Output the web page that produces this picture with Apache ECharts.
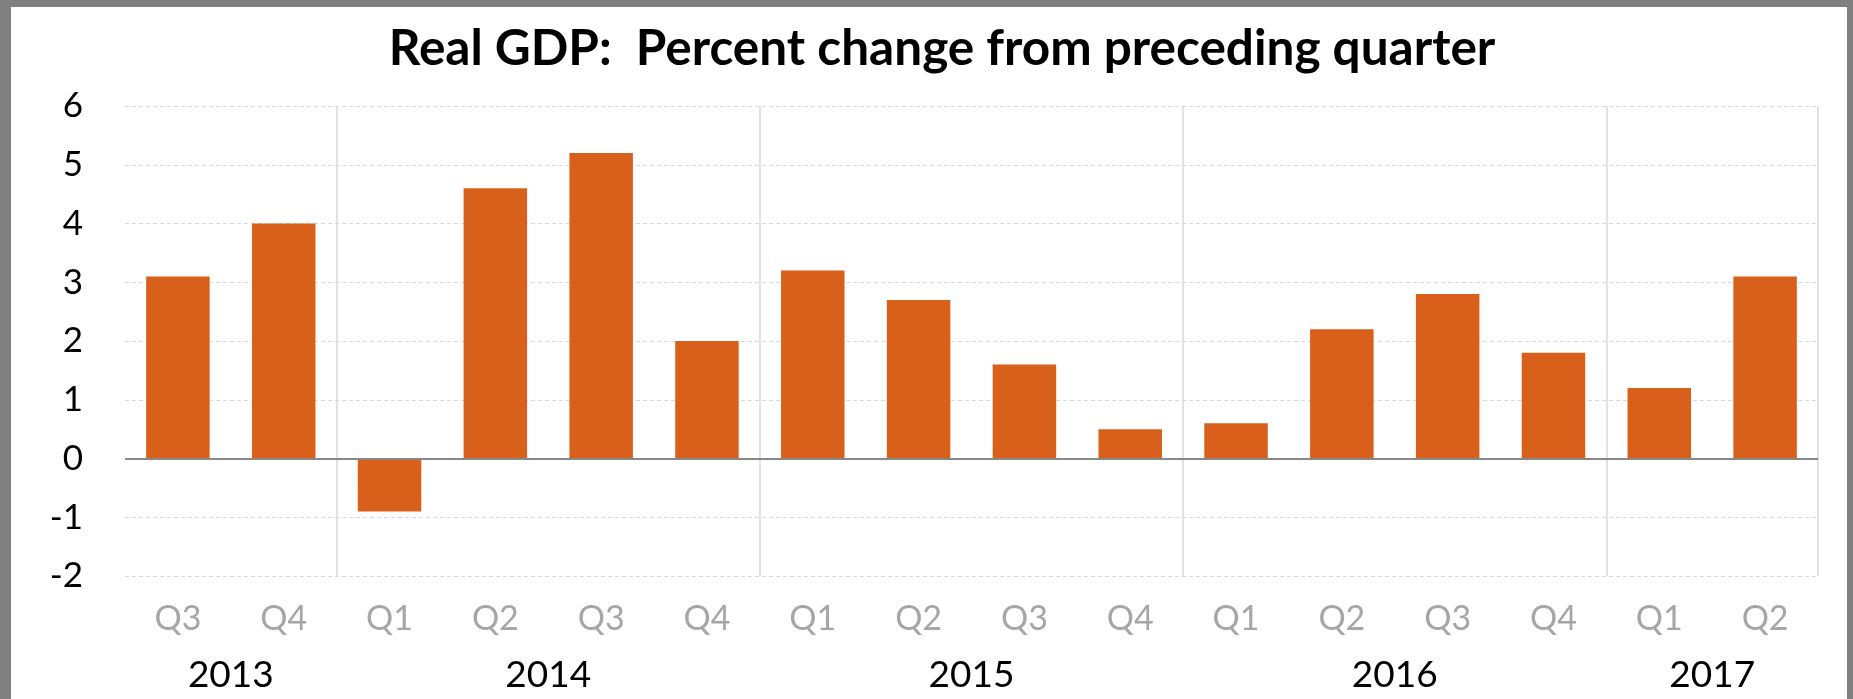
<!DOCTYPE html>
<html>
<head>
<meta charset="utf-8">
<script src="https://cdn.jsdelivr.net/npm/echarts@6/dist/echarts.min.js"></script>
<style>
html,body{margin:0;padding:0;background:#fff;}
#chart{width:1853px;height:699px;}
</style>
</head>
<body>
<div id="chart"></div>
<script>
const titleText = 'Real GDP:  Percent change from preceding quarter';
const quarters = ['Q3','Q4','Q1','Q2','Q3','Q4','Q1','Q2','Q3','Q4','Q1','Q2','Q3','Q4','Q1','Q2'];
const years = ['2013','2014','2015','2016','2017'];
const quartersPerYear = [2,4,4,4,2];
const gdpChange = [3.1, 4.0, -0.9, 4.6, 5.2, 2.0, 3.2, 2.7, 1.6, 0.5, 0.6, 2.2, 2.8, 1.8, 1.2, 3.1];
const yMin = -2, yMax = 6, yStep = 1;

// derived: year label centres and year boundaries (in category units)
const yearCenters = {};
const yearStarts = [];
let acc = 0;
quartersPerYear.forEach((n, i) => {
  if (i > 0) yearStarts.push(acc);
  yearCenters[acc + n / 2] = years[i];
  acc += n;
});

const FONT = 'Lato';
const chart = echarts.init(document.getElementById('chart'), null, {renderer: 'canvas'});
chart.setOption({
  animation: false,
  backgroundColor: '#fff',
  title: {
    text: titleText,
    left: 937,
    textAlign: 'center',
    top: 19,
    textStyle: {fontFamily: FONT, fontWeight: 'bold', fontSize: 49.5, color: '#000'}
  },
  grid: {left: 125, right: 35, top: 106, bottom: 123, containLabel: false},
  xAxis: [
    {
      type: 'category',
      data: quarters,
      position: 'bottom',
      axisLine: {show: false, onZero: false},
      axisTick: {show: false},
      axisLabel: {fontFamily: FONT, fontSize: 34, color: '#a6a6a6', margin: 26, interval: 0},
      splitLine: {
        show: true,
        interval: (idx) => yearStarts.indexOf(idx) >= 0,
        lineStyle: {color: '#d9d9d9', width: 1.5, type: 'solid'}
      }
    },
    {
      type: 'value',
      min: 0,
      max: quarters.length,
      interval: 0.5,
      position: 'bottom',
      axisLine: {show: false, onZero: false},
      axisTick: {show: false},
      splitLine: {show: false},
      axisLabel: {
        fontFamily: FONT, fontSize: 37, color: '#000', margin: 81,
        showMinLabel: true, showMaxLabel: true,
        formatter: (v) => yearCenters[v] || ''
      }
    }
  ],
  yAxis: {
    type: 'value',
    min: yMin,
    max: yMax,
    interval: yStep,
    axisLine: {show: false},
    axisTick: {show: false},
    axisLabel: {fontFamily: FONT, fontSize: 35, color: '#000', margin: 42},
    splitLine: {show: true, lineStyle: {color: '#d9d9d9', width: 1, type: [4, 3]}}
  },
  series: [{
    type: 'bar',
    xAxisIndex: 0,
    data: gdpChange,
    barCategoryGap: '40%',
    itemStyle: {color: '#d8601b'},
    markLine: {
      silent: true,
      symbol: ['none', 'none'],
      label: {show: false},
      lineStyle: {color: '#888888', width: 2, type: 'solid'},
      data: [{yAxis: 0}]
    }
  }],
  graphic: [
    {type: 'rect', left: 0, top: 0, shape: {width: 11, height: 699}, style: {fill: '#808080'}, silent: true},
    {type: 'rect', left: 0, top: 0, shape: {width: 1853, height: 7}, style: {fill: '#808080'}, silent: true},
    {type: 'rect', left: 1847, top: 0, shape: {width: 6, height: 699}, style: {fill: '#808080'}, silent: true}
  ]
});
</script>
</body>
</html>
